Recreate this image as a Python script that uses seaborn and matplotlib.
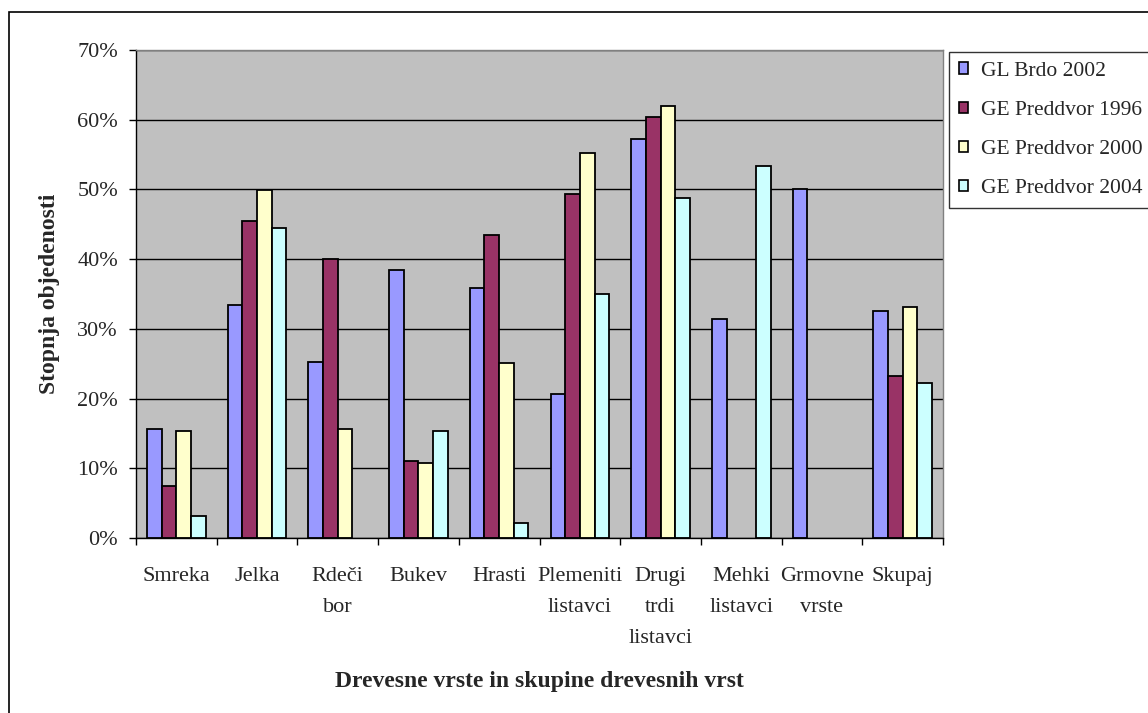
import numpy as np
import pandas as pd
import matplotlib
matplotlib.use("Agg")
import matplotlib.pyplot as plt
from matplotlib.patches import Rectangle
from matplotlib.ticker import PercentFormatter, FixedLocator, NullFormatter
import seaborn as sns

# Tree species / species groups on the x axis
categories = ["Smreka", "Jelka", "Rdeči\nbor", "Bukev", "Hrasti",
              "Plemeniti\nlistavci", "Drugi\ntrdi\nlistavci",
              "Mehki\nlistavci", "Grmovne\nvrste", "Skupaj"]

series_names = ["GL Brdo 2002", "GE Preddvor 1996",
                "GE Preddvor 2000", "GE Preddvor 2004"]

# Browsing intensity (share of browsed saplings), NaN = no data
gl_brdo_2002 = [0.156, 0.334, 0.253, 0.384, 0.358, 0.206, 0.572, 0.314, 0.500, 0.326]
ge_preddvor_1996 = [0.074, 0.454, 0.400, 0.110, 0.434, 0.494, 0.604, np.nan, np.nan, 0.233]
ge_preddvor_2000 = [0.154, 0.499, 0.156, 0.107, 0.251, 0.552, 0.620, np.nan, np.nan, 0.331]
ge_preddvor_2004 = [0.032, 0.444, np.nan, 0.154, 0.021, 0.350, 0.488, 0.533, np.nan, 0.222]

bar_colors = ["#9999FF", "#993366", "#FFFFCC", "#CCFFFF"]

records = []
for name, vals in zip(series_names,
                      [gl_brdo_2002, ge_preddvor_1996, ge_preddvor_2000, ge_preddvor_2004]):
    for cat, v in zip(categories, vals):
        records.append({"vrsta": cat, "serija": name, "delez": v})
df = pd.DataFrame(records).dropna()

sns.set_theme(style="white")
plt.rcParams["font.family"] = ["Liberation Serif", "DejaVu Serif"]

W, H = 1148, 713
fig = plt.figure(figsize=(W / 100, H / 100), dpi=100)
ax = fig.add_axes([136 / W, 1 - 538 / H, (943 - 136) / W, (538 - 50) / H])
ax.set_facecolor("#C0C0C0")
ax.set_axisbelow(True)

sns.barplot(data=df, x="vrsta", y="delez", hue="serija",
            order=categories, hue_order=series_names,
            palette=bar_colors, width=0.727, errorbar=None,
            edgecolor="black", linewidth=1.3, saturation=1, ax=ax)

ax.set_xlim(-0.5, len(categories) - 0.5)
ax.set_ylim(0, 0.70)
ax.yaxis.set_major_locator(FixedLocator(np.arange(0, 0.701, 0.1)))
ax.yaxis.set_major_formatter(PercentFormatter(1.0, decimals=0))
ax.grid(axis="y", color="black", linewidth=1.0)
ax.grid(axis="x", visible=False)

# ticks between categories, labels centred under each group
ax.xaxis.set_major_locator(FixedLocator(np.arange(-0.5, len(categories), 1.0)))
ax.xaxis.set_major_formatter(NullFormatter())
ax.xaxis.set_minor_locator(FixedLocator(np.arange(len(categories))))
ax.set_xticklabels(categories, minor=True)
ax.tick_params(axis="x", which="major", direction="out", length=5, width=1,
               color="black", bottom=True)
ax.tick_params(axis="x", which="minor", length=0, pad=21, labelsize=16)
for lab in ax.get_xticklabels(minor=True):
    lab.set_linespacing(1.85)
ax.tick_params(axis="y", direction="out", length=5, width=1, color="black",
               left=True, pad=8, labelsize=16)

for side in ["top", "right"]:
    ax.spines[side].set_color("#808080")
    ax.spines[side].set_linewidth(1)
for side in ["left", "bottom"]:
    ax.spines[side].set_color("black")
    ax.spines[side].set_linewidth(1)

ax.set_xlabel("Drevesne vrste in skupine drevesnih vrst",
              fontsize=17, fontweight="bold")
ax.xaxis.set_label_coords(0.5, -0.272)
ax.set_ylabel("Stopnja objedenosti", fontsize=17, fontweight="bold")
ax.yaxis.set_label_coords(-0.094, 0.5)

handles, labels = ax.get_legend_handles_labels()
if ax.get_legend() is not None:
    ax.get_legend().remove()
leg = fig.legend(handles, labels, loc="upper left",
                 bbox_to_anchor=(949 / W, 1 - 52 / H),
                 bbox_transform=fig.transFigure,
                 fontsize=15.5, frameon=True, fancybox=False, shadow=False,
                 handlelength=0.42, handleheight=0.42, handletextpad=0.6,
                 labelspacing=0.94, borderpad=0.45, borderaxespad=0)
leg.get_frame().set_edgecolor("black")
leg.get_frame().set_linewidth(1)
for p in leg.get_patches():
    p.set_edgecolor("black")
    p.set_linewidth(1.2)

# outer chart frame
frame = Rectangle((9 / W, -0.5), 2.0, 0.5 + (1 - 12 / H),
                  transform=fig.transFigure, fill=False,
                  edgecolor="black", linewidth=1.2, clip_on=False)
fig.patches.append(frame)

fig.savefig("out.png", dpi=100, facecolor="white")
